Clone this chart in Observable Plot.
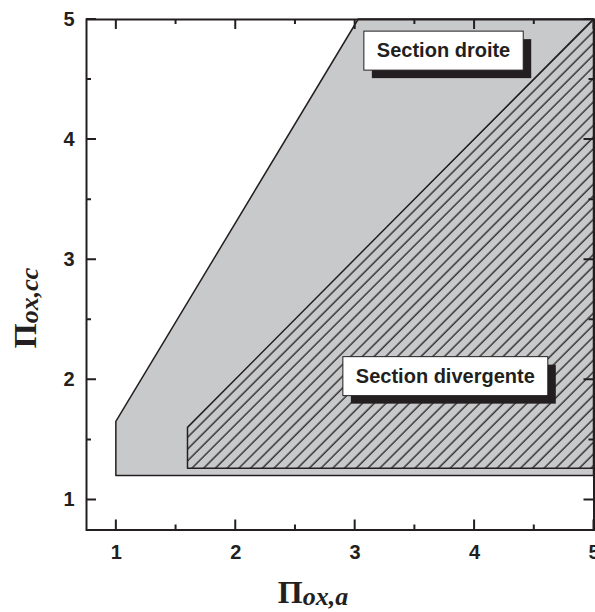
<!DOCTYPE html>
<html><head><meta charset="utf-8">
<script src="https://cdn.jsdelivr.net/npm/d3@7"></script>
<script src="https://cdn.jsdelivr.net/npm/@observablehq/plot@0.6"></script>
<style>body{margin:0;background:#fff} svg{display:block}</style>
</head><body><div id="chart"></div>
<script>
// Gray region (Section droite domain)
const grayX = [1, 3.03, 5];
const grayLow = [1.2, 1.2, 1.2];
const grayHigh = [1.65, 5, 5];
// Hatched region (Section divergente domain)
const hatchX = [1.6, 5];
const hatchLow = [1.26, 1.26];
const hatchHigh = [1.6, 5];
// Ticks
const majorTicks = [1, 2, 3, 4, 5];
const minorTicks = [1.5, 2.5, 3.5, 4.5];
// Annotations
const labels = ["Section droite", "Section divergente"];
const labelX = [3.74, 3.755];
const labelY = [4.74, 2.03];

const W = 595, H = 612, mL = 86, mR = 1.5, mT = 19, mB = 82.5;
const ink = "#231f20";
const fillGray = "#c8c9cb";

const gray = grayX.map((x, i) => ({x, y1: grayLow[i], y2: grayHigh[i]}));
const hatch = hatchX.map((x, i) => ({x, y1: hatchLow[i], y2: hatchHigh[i]}));
const annot = labels.map((t, i) => ({t, x: labelX[i], y: labelY[i]}));

const chart = Plot.plot({
  width: W, height: H,
  marginLeft: mL, marginRight: mR, marginTop: mT, marginBottom: mB,
  style: {fontFamily: "Liberation Sans, Arial, sans-serif", background: "#fff", color: ink},
  x: {domain: [0.75, 5]},
  y: {domain: [0.75, 5]},
  marks: [
    Plot.areaY(gray, {x: "x", y1: "y1", y2: "y2", fill: fillGray, stroke: ink, strokeWidth: 1.5}),
    Plot.areaY(hatch, {x: "x", y1: "y1", y2: "y2", fill: "url(#hatch)", stroke: ink, strokeWidth: 1.5}),
    Plot.frame({stroke: ink, strokeWidth: 2}),
    Plot.axisX({ticks: majorTicks, tickFormat: "d", tickSize: 0, tickPadding: 15, fontSize: 20, fontWeight: "bold", label: null, fill: ink}),
    Plot.axisY({ticks: majorTicks, tickFormat: "d", tickSize: 0, tickPadding: 12, fontSize: 20, fontWeight: "bold", label: null, fill: ink}),
    Plot.text(annot, {x: "x", y: "y", text: "t", fontSize: 20, fontWeight: "bold", fill: ink,
      textAnchor: "middle", lineAnchor: "middle"})
  ]
});

document.getElementById("chart").appendChild(chart);
const svg = d3.select(chart);
const sx = chart.scale("x"), sy = chart.scale("y");

// inward ticks on all four sides, placed with the plot's own scales
const L = mL, R = W - mR, T = mT, B = H - mB;
let d = "";
for (const [vals, len] of [[majorTicks, 10], [minorTicks, 5]]) {
  for (const v of vals) {
    const px = sx.apply(v), py = sy.apply(v);
    d += `M${px},${B}V${B - len}M${px},${T}V${T + len}M${L},${py}H${L + len}M${R},${py}H${R - len}`;
  }
}
svg.append("path").attr("d", d).attr("stroke", ink).attr("stroke-width", 2).attr("fill", "none");

// hatch pattern
const defs = svg.insert("defs", ":first-child");
const pat = defs.append("pattern").attr("id", "hatch").attr("patternUnits", "userSpaceOnUse")
  .attr("width", 8.3).attr("height", 8.3).attr("patternTransform", "rotate(45)");
pat.append("rect").attr("width", 8.3).attr("height", 8.3).attr("fill", fillGray);
pat.append("line").attr("x1", 2).attr("y1", -1).attr("x2", 2).attr("y2", 9.3)
  .attr("stroke", ink).attr("stroke-width", 1.3);

// label boxes with drop shadow
svg.selectAll('g[aria-label="text"] text').each(function() {
  const t = this;
  const bb = t.getBBox();
  const tr = t.getAttribute("transform");
  const padX = 13, top = 8, hgt = bb.height + 17;
  const g = d3.select(t.parentNode);
  const sh = g.insert("rect", () => t)
    .attr("x", bb.x - padX + 8).attr("y", bb.y - top + 8)
    .attr("width", bb.width + 2 * padX).attr("height", hgt)
    .attr("fill", ink).attr("stroke", "none");
  const bx = g.insert("rect", () => t)
    .attr("x", bb.x - padX).attr("y", bb.y - top)
    .attr("width", bb.width + 2 * padX).attr("height", hgt)
    .attr("fill", "#fff").attr("stroke", ink).attr("stroke-width", 1);
  if (tr) { sh.attr("transform", tr); bx.attr("transform", tr); }
});

// axis titles
const serif = "Liberation Serif, Times New Roman, serif";
const xl = svg.append("text").attr("x", 313).attr("y", 603).attr("fill", ink);
xl.append("tspan").attr("font-family", serif).attr("font-weight", "bold").attr("font-size", 32).text("Π");
xl.append("tspan").attr("font-family", serif).attr("font-style", "italic").attr("font-weight", "bold")
  .attr("font-size", 26).attr("dy", 2).text("ox,a");

const yl = svg.append("text").attr("transform", "translate(36,308) rotate(-90)").attr("fill", ink);
yl.append("tspan").attr("font-family", serif).attr("font-weight", "bold").attr("font-size", 32).text("Π");
yl.append("tspan").attr("font-family", serif).attr("font-style", "italic").attr("font-weight", "bold")
  .attr("font-size", 26).attr("dy", 2).text("ox,cc");
</script>
</body></html>
